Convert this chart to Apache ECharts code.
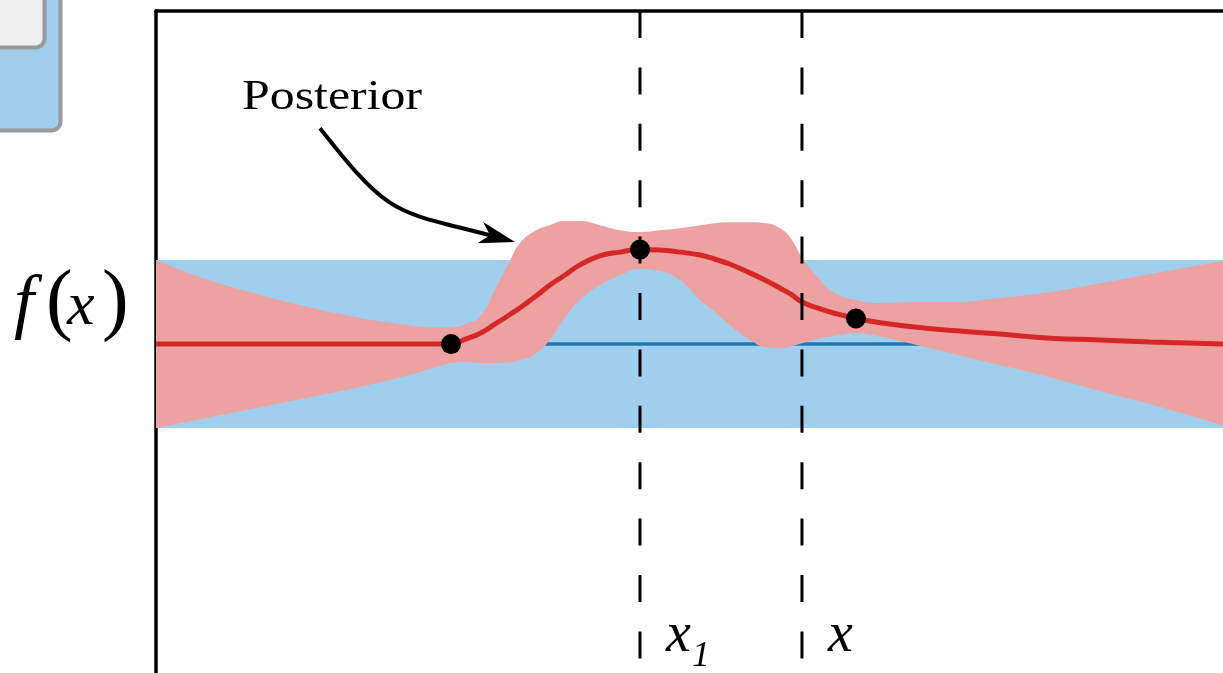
<!DOCTYPE html>
<html><head><meta charset="utf-8">
<script src="https://cdn.jsdelivr.net/npm/echarts@6/dist/echarts.min.js"></script>
<style>html,body{margin:0;padding:0;background:#fff}#c{width:1223px;height:673px}</style>
</head><body><div id="c"></div>
<script>
// ---- data (x: 0..100 across the plot, y: prior mean 0, prior band +-2) ----
const xsPost    = [0, 4.1, 8.8, 13.5, 18.2, 22.9, 26.6, 27.65, 29.0, 30.4, 31.8, 33.2, 34.1, 35.5, 36.9, 38.3, 39.7, 41.6, 43.5, 45.36, 47.2, 49.1, 51.0, 52.4, 53.8, 55.7, 57.1, 58.5, 59.6, 60.54, 62.0, 63.5, 65.6, 68.1, 71.3, 74.4, 79.1, 83.8, 88.5, 93.2, 100];
const postMean  = [0, 0, 0, 0, 0, 0, 0, 0, 0.12, 0.26, 0.48, 0.71, 0.86, 1.12, 1.40, 1.64, 1.88, 2.10, 2.19, 2.25, 2.24, 2.19, 2.12, 2.02, 1.90, 1.69, 1.52, 1.33, 1.17, 1.00, 0.86, 0.74, 0.61, 0.50, 0.40, 0.33, 0.24, 0.14, 0.10, 0.05, 0];
const postUpper = [2.00, 1.60, 1.24, 0.93, 0.67, 0.48, 0.40, 0.40, 0.48, 0.67, 1.31, 2.00, 2.40, 2.69, 2.83, 2.93, 2.93, 2.83, 2.71, 2.67, 2.71, 2.76, 2.83, 2.88, 2.90, 2.90, 2.88, 2.76, 2.48, 2.07, 1.60, 1.24, 1.05, 0.98, 1.00, 1.00, 1.10, 1.24, 1.45, 1.67, 1.98];
const postLower = [-2.00, -1.79, -1.55, -1.31, -1.07, -0.79, -0.52, -0.45, -0.43, -0.45, -0.45, -0.43, -0.38, -0.24, 0.10, 0.62, 1.05, 1.40, 1.64, 1.79, 1.74, 1.52, 1.05, 0.76, 0.45, 0.10, -0.07, -0.10, -0.05, 0.02, 0.12, 0.19, 0.26, 0.17, -0.02, -0.21, -0.50, -0.79, -1.12, -1.43, -1.93];
const obsX = [27.65, 45.36, 65.6];
const obsY = [0, 2.25, 0.61];
const priorMean = 0;
const priorHalf = 2;
const xRange = [0, 100];
const yRange = [-7.83, 7.93];
const markX = [45.36, 60.54];
const markMain = ['x', 'x'];
const markSub = ['1', ''];
const markLabelY = -7.40;
const annoText = 'Posterior';
const annoTextPos = [8.06, 5.52];
const arrowPts = [[15.37, 5.14], [22.31, 2.90], [22.31, 3.21], [33.65, 2.43]];
const yTitle = ['f', '(', 'x', ')'];

const chart = echarts.init(document.getElementById('c'), null, {renderer: 'canvas'});
const bandDiff = postUpper.map((u, i) => +(u - postLower[i]).toFixed(4));
const hidden = {width: 0, opacity: 0};
const SM = 0.5;
// stacked series: value first, x second, so the stack acts on y
const yx = {x: 1, y: 0};
const series = [
  {type: 'line', stack: 'prior', stackStrategy: 'all', encode: yx, data: [[priorMean - priorHalf, xRange[0]], [priorMean - priorHalf, xRange[1]]], symbol: 'none', lineStyle: hidden, z: 1, silent: true},
  {type: 'line', stack: 'prior', stackStrategy: 'all', encode: yx, data: [[2 * priorHalf, xRange[0]], [2 * priorHalf, xRange[1]]], symbol: 'none', lineStyle: hidden, areaStyle: {color: '#a0cfee', opacity: 1}, z: 1, silent: true},
  {type: 'line', data: [[xRange[0], priorMean], [xRange[1], priorMean]], symbol: 'none', lineStyle: {color: '#1f77b4', width: 3.5}, z: 2, silent: true},
  {type: 'line', stack: 'post', stackStrategy: 'all', encode: yx, data: xsPost.map((x, i) => [postLower[i], x]), symbol: 'none', smooth: SM, lineStyle: hidden, z: 3, silent: true},
  {type: 'line', stack: 'post', stackStrategy: 'all', encode: yx, data: xsPost.map((x, i) => [bandDiff[i], x]), symbol: 'none', smooth: SM, lineStyle: hidden, areaStyle: {color: '#eda2a2', opacity: 1}, z: 3, silent: true},
  {type: 'line', data: xsPost.map((x, i) => [x, postMean[i]]), symbol: 'none', smooth: SM, lineStyle: {color: '#d62728', width: 5}, z: 4, silent: true},
  {type: 'scatter', data: obsX.map((x, i) => [x, obsY[i]]), symbolSize: 20, itemStyle: {color: '#000', opacity: 1}, z: 5, silent: true}
];
markX.forEach(x => series.push({type: 'line', data: [[x, yRange[1]], [x, yRange[0]]], symbol: 'none', lineStyle: {color: '#000', width: 3, type: [27, 29.4], cap: 'butt'}, z: 6, silent: true}));

chart.setOption({
  animation: false,
  grid: {left: 156, right: 0, top: 11, bottom: 0, containLabel: false},
  xAxis: {type: 'value', min: xRange[0], max: xRange[1], position: 'top',
    axisLine: {show: true, onZero: false, lineStyle: {color: '#000', width: 3.5}},
    axisTick: {show: false}, axisLabel: {show: false}, splitLine: {show: false}},
  yAxis: {type: 'value', min: yRange[0], max: yRange[1],
    axisLine: {show: true, onZero: false, lineStyle: {color: '#000', width: 3.5}},
    axisTick: {show: false}, axisLabel: {show: false}, splitLine: {show: false}},
  series: series
});

const px = p => chart.convertToPixel({gridIndex: 0}, p);
const FONT = '"Liberation Serif", "DejaVu Serif", serif';
function txt(str, x, baseline, size, italic, scaleX) {
  return {type: 'text', x: x, y: baseline - 0.3375 * size, scaleX: scaleX || 1, silent: true, z: 100,
    style: {text: str, x: 0, y: 0, fill: '#000', font: (italic ? 'italic ' : '') + size + 'px ' + FONT, align: 'left', verticalAlign: 'middle'}};
}
const g = [];
// partial box from neighbouring panel (top-left)
g.push({type: 'rect', shape: {x: -20, y: -20, width: 80.5, height: 150.5, r: 9}, style: {fill: '#a0cfee', stroke: '#9a9a9a', lineWidth: 4}, silent: true});
g.push({type: 'rect', shape: {x: -20, y: -20, width: 64.5, height: 67.5, r: 9}, style: {fill: '#f0f0f0', stroke: '#9a9a9a', lineWidth: 4}, silent: true});
// y title f(x)
g.push(txt(yTitle[0], 14, 330, 72, true));
g.push(txt(yTitle[1], 46, 331, 80, false));
g.push(txt(yTitle[2], 67, 329, 62, true));
g.push(txt(yTitle[3], 102, 331, 80, false));
// dashed-line labels
markX.forEach((x, i) => {
  const p = px([x, markLabelY]);
  g.push(txt(markMain[i], p[0] + 26, p[1], 56, true));
  if (markSub[i]) g.push(txt(markSub[i], p[0] + 52, p[1] + 14, 36, true));
});
// annotation
const tp = px(annoTextPos);
g.push(txt(annoText, tp[0], tp[1], 43, false, 1.16));
const ap = arrowPts.map(px);
const tip = ap[3], c2 = ap[2];
let dx = tip[0] - c2[0], dy = tip[1] - c2[1];
const dl = Math.hypot(dx, dy); dx /= dl; dy /= dl;
const nx = -dy, ny = dx, L = 36, hw = 11;
const shaftEnd = [tip[0] - 14 * dx, tip[1] - 14 * dy];
g.push({type: 'bezierCurve', silent: true, z: 100, shape: {x1: ap[0][0], y1: ap[0][1], cpx1: ap[1][0], cpy1: ap[1][1], cpx2: c2[0], cpy2: c2[1], x2: shaftEnd[0], y2: shaftEnd[1]}, style: {stroke: '#000', lineWidth: 4, fill: null}});
g.push({type: 'polygon', silent: true, z: 100, shape: {points: [
  tip,
  [tip[0] - L * dx + hw * nx, tip[1] - L * dy + hw * ny],
  [tip[0] - 0.72 * L * dx, tip[1] - 0.72 * L * dy],
  [tip[0] - L * dx - hw * nx, tip[1] - L * dy - hw * ny]
]}, style: {fill: '#000'}});
chart.setOption({graphic: {elements: g}});
</script>
</body></html>
